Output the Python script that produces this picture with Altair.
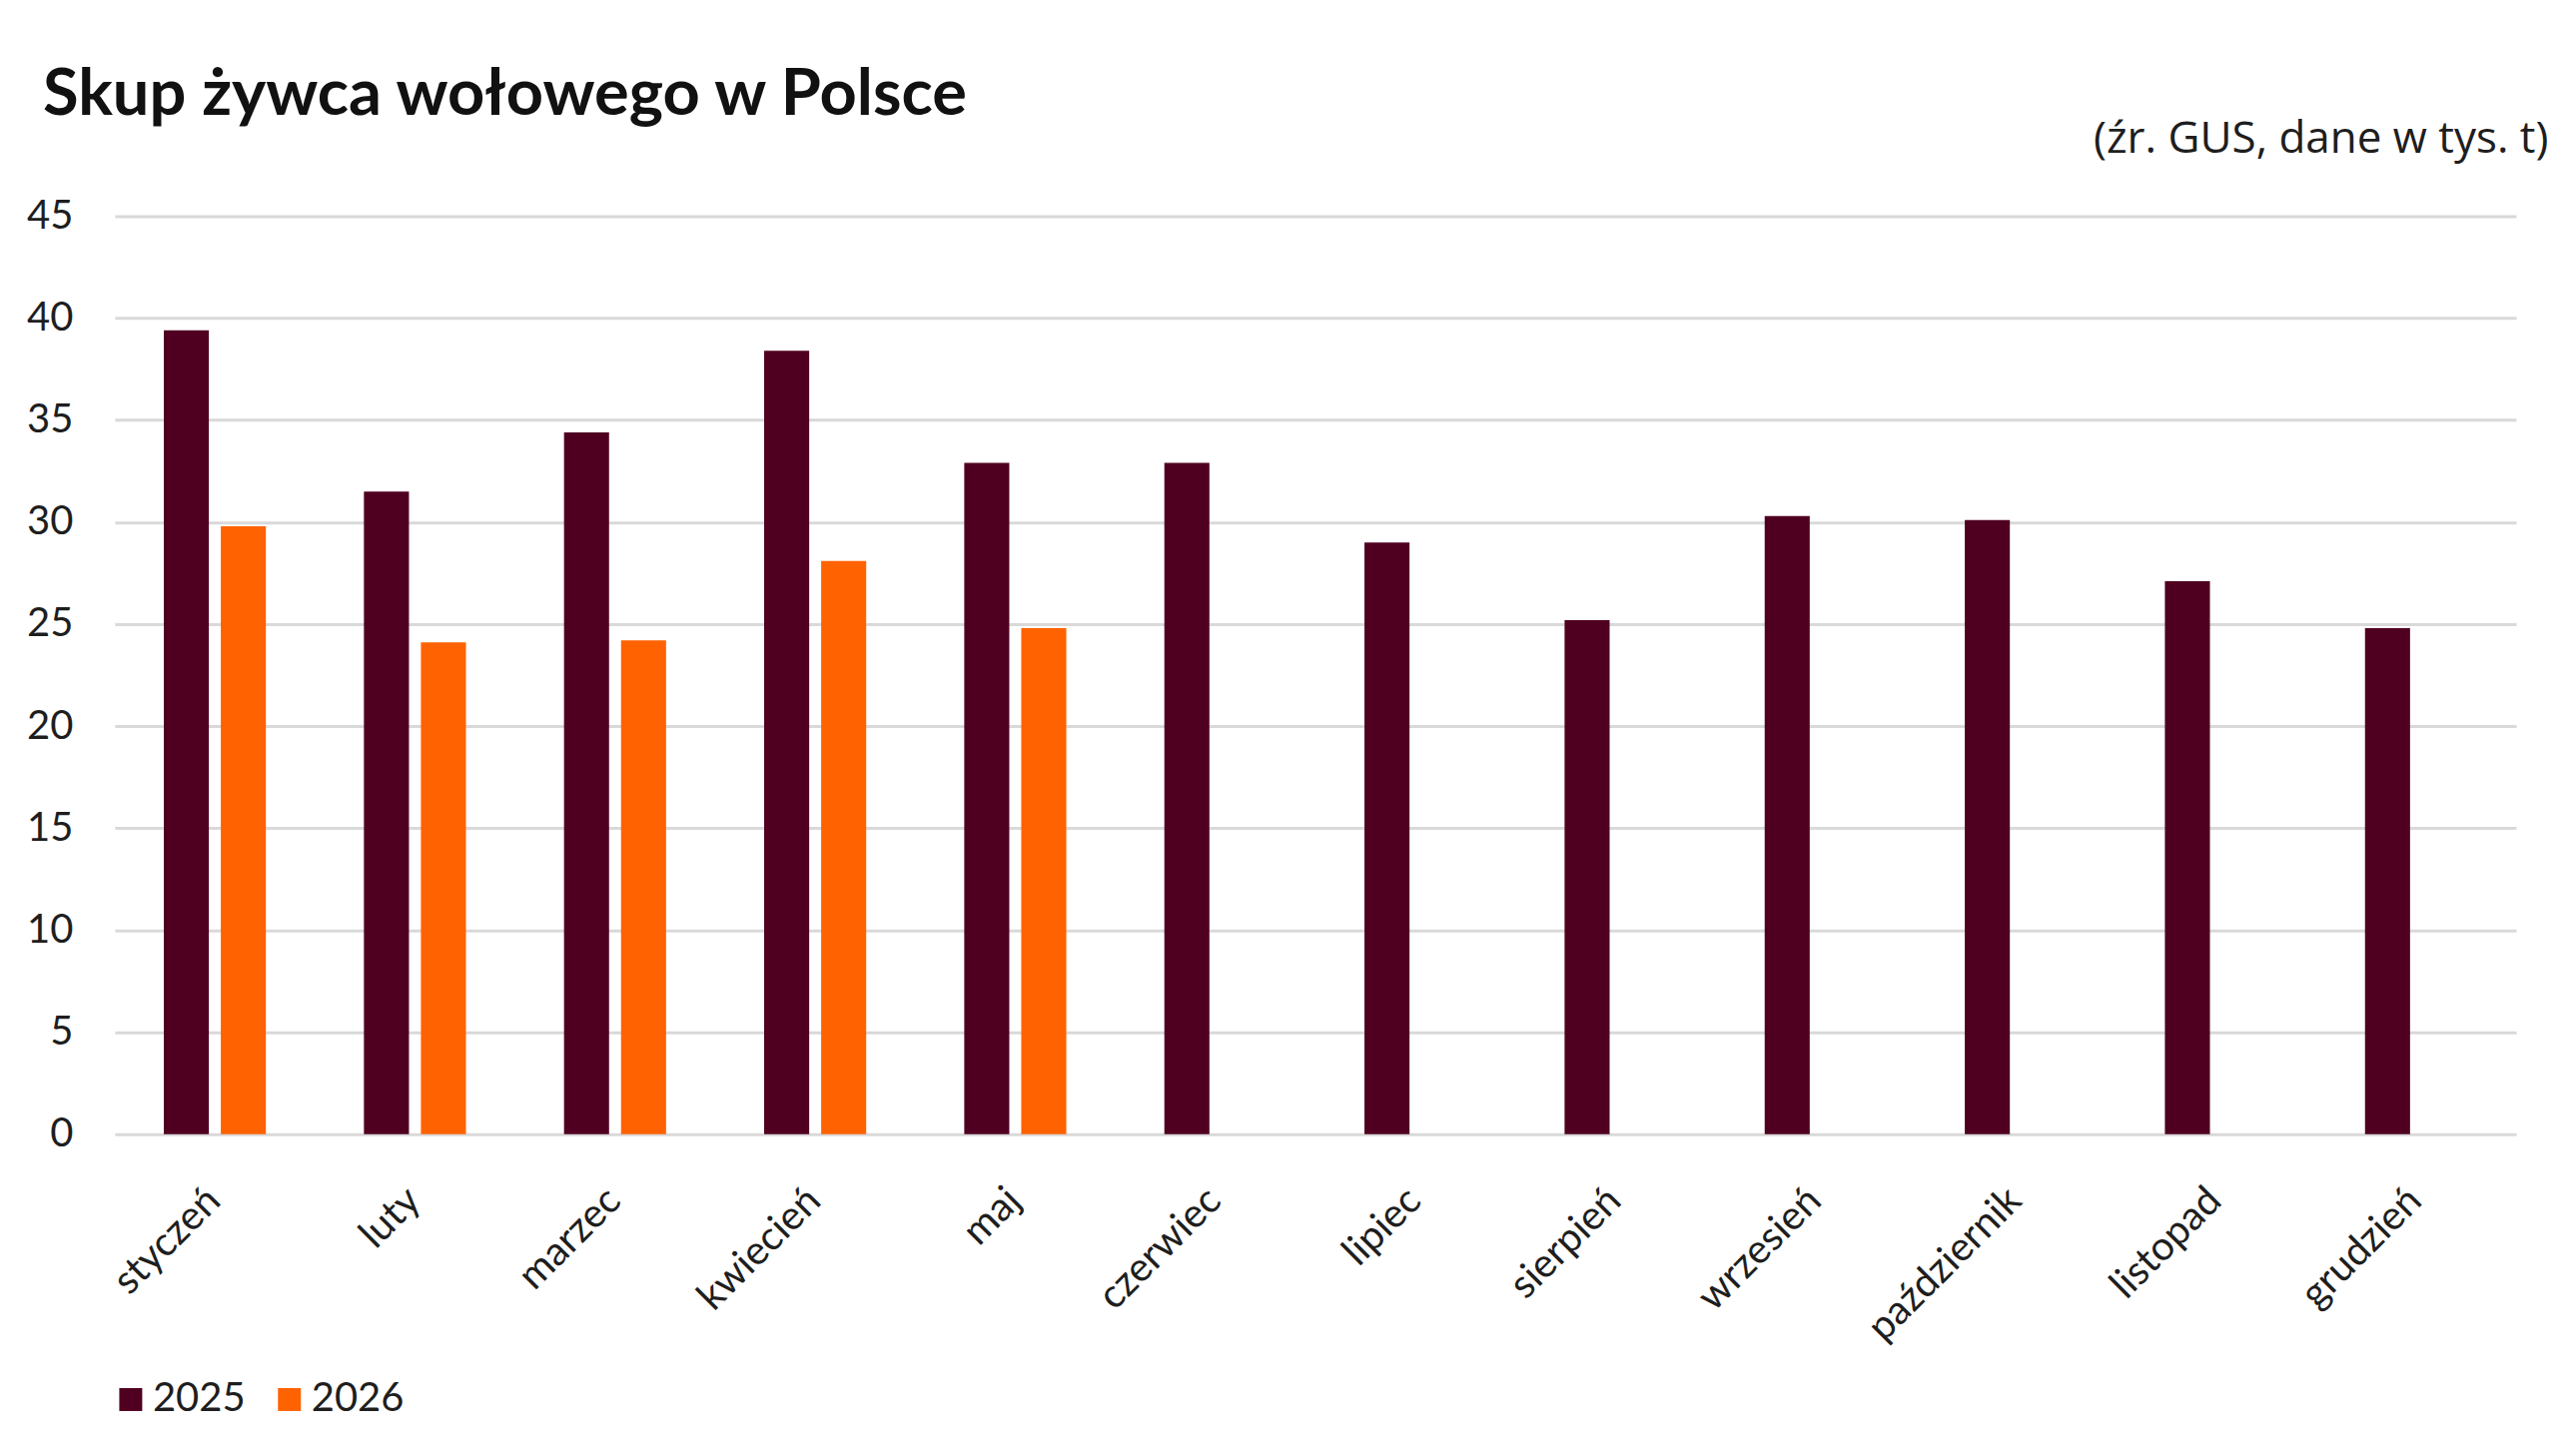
import altair as alt
import pandas as pd

months = ["styczeń", "luty", "marzec", "kwiecień", "maj", "czerwiec",
          "lipiec", "sierpień", "wrzesień", "październik", "listopad", "grudzień"]
v2025 = [39.4, 31.5, 34.4, 38.4, 32.9, 32.9, 29.0, 25.2, 30.3, 30.1, 27.1, 24.8]
v2026 = [29.8, 24.1, 24.2, 28.1, 24.8]
years = ["2025", "2026"]
colors = ["#4F0020", "#FF6200"]
y_ticks = [0, 5, 10, 15, 20, 25, 30, 35, 40, 45]

rows = []
for m, v in zip(months, v2025):
    rows.append({"miesiac": m, "rok": "2025", "wartosc": v})
for m, v in zip(months, v2026):
    rows.append({"miesiac": m, "rok": "2026", "wartosc": v})
df = pd.DataFrame(rows)

FONT = "Lato"
TXT = "#1e1e1e"

chart = alt.Chart(df).mark_bar().encode(
    x=alt.X("miesiac:N", sort=months,
            scale=alt.Scale(paddingInner=0.49, paddingOuter=0.245),
            axis=alt.Axis(title=None, labelAngle=-45, ticks=False, domain=False,
                          labelFontSize=40, labelFont=FONT, labelColor=TXT,
                          labelPadding=46, labelOffset=-15, labelLimit=0)),
    xOffset=alt.XOffset("rok:N", sort=years,
                        scale=alt.Scale(paddingInner=0.21, paddingOuter=0)),
    y=alt.Y("wartosc:Q", scale=alt.Scale(domain=[0, 45], nice=False),
            axis=alt.Axis(values=y_ticks, title="(źr. GUS, dane w tys. t)",
                          titleAngle=0, titleAlign="right", titleBaseline="alphabetic",
                          titleX=2438, titleY=-64, titleFont="Open Sans", titleFontSize=44,
                          titleFontWeight="normal", titleColor=TXT,
                          ticks=False, domain=False, gridColor="#d9d9d9", gridWidth=3,
                          labelFont=FONT, labelFontSize=40, labelColor=TXT,
                          labelPadding=42)),
    color=alt.Color("rok:N", scale=alt.Scale(domain=years, range=colors),
                    legend=alt.Legend(title=None, orient="none", legendX=-4, legendY=1166,
                                      direction="horizontal", symbolType="square",
                                      symbolSize=529, symbolStrokeWidth=0,
                                      labelFont=FONT, labelFontSize=40, labelColor=TXT,
                                      labelOffset=2, columnPadding=24)),
).properties(
    width=2406, height=920,
    title=alt.TitleParams("Skup żywca wołowego w Polsce", anchor="start", frame="group",
                          font=FONT, fontSize=65, fontWeight="bold", color="#111111",
                          offset=0, dx=-72, dy=12),
    padding={"left": 107, "top": 208, "right": 45, "bottom": 290},
    autosize=alt.AutoSizeParams(type="none"),
).configure_view(stroke=None)

chart.save("out.html", embed_options={"renderer": "svg", "actions": False})
